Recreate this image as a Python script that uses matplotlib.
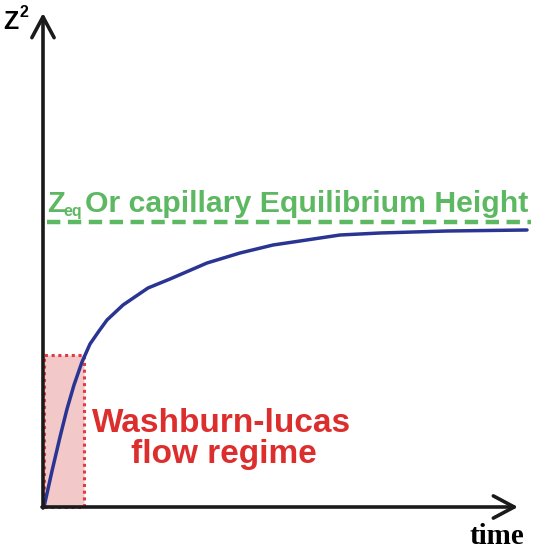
import matplotlib
matplotlib.use("Agg")
import matplotlib.pyplot as plt
from matplotlib.patches import Rectangle

# Curve data (arbitrary units: time vs z^2)
time_vals = [0, 8, 16, 23, 30, 38, 46, 55, 63, 79, 104, 126, 163, 196, 229, 256, 296, 336, 403, 483]
z2_vals = [0, 36, 70, 98, 122, 145, 163, 176, 187, 202, 219, 228, 244, 254, 262, 266, 272, 274, 276, 277]
z_eq = 285
regime_t_end = 40
regime_z_top = 152
eq_label = "Or capillary Equilibrium Height"
regime_line1 = "Washburn-lucas"
regime_line2 = "flow regime"

fig = plt.figure(figsize=(5.58, 5.51), dpi=100)
ax = fig.add_axes([0, 0, 1, 1])
ax.set_xlim(-44, 514)
ax.set_ylim(-44, 507)
ax.axis("off")

W, H = 558, 551
def fx(px):
    return px / W
def fy(py):
    return 1 - py / H

# regime box
ax.add_patch(Rectangle((0, 0), regime_t_end, regime_z_top, facecolor="#F2C8C8",
                       edgecolor="#E23A45", linestyle=(0, (1, 1.2)), lw=2.2, zorder=1))

# equilibrium line
ax.plot([3, 487], [z_eq, z_eq], color="#5DB862", lw=3.2, dashes=(3.0, 1.7), zorder=2)

# curve
ax.plot(time_vals, z2_vals, color="#2A3593", lw=2.5, zorder=3,
        solid_capstyle="round", solid_joinstyle="round")

# axes arrows
arrow_kw = dict(arrowstyle="->,head_length=0.75,head_width=0.4", lw=2.6, color="#1a1a1a",
                mutation_scale=20, shrinkA=0, shrinkB=0)
ax.annotate("", xy=(-1, 494), xytext=(-1, -1), arrowprops=arrow_kw, zorder=4)
ax.annotate("", xy=(474, 0), xytext=(-2, 0), arrowprops=arrow_kw, zorder=4)

# axis labels
fig.text(fx(3), fy(29), "Z", fontsize=18, fontweight="bold",
         family="Liberation Sans", ha="left", va="baseline")
fig.text(fx(20), fy(17), "2", fontsize=11.5, fontweight="bold",
         family="Liberation Sans", ha="left", va="baseline")
fig.text(fx(470), fy(544), "time", fontsize=21, fontweight="bold",
         family="Liberation Serif", ha="left", va="baseline")

# Z_eq label
green = "#5DB862"
fig.text(fx(47), fy(212), "Z", fontsize=21, fontweight="bold", color=green,
         family="Liberation Sans", ha="left", va="baseline")
fig.text(fx(63), fy(216), "eq", fontsize=11.5, fontweight="bold", color=green,
         family="Liberation Sans", ha="left", va="baseline")
fig.text(fx(85), fy(212), eq_label, fontsize=21.8, fontweight="bold", color=green,
         family="Liberation Sans", ha="left", va="baseline")

red = "#DD2E2E"
fig.text(fx(221.5), fy(432), regime_line1, fontsize=24, fontweight="bold", color=red,
         family="Liberation Sans", ha="center", va="baseline")
fig.text(fx(224), fy(463), regime_line2, fontsize=24, fontweight="bold", color=red,
         family="Liberation Sans", ha="center", va="baseline")

fig.savefig("out.png", dpi=100, facecolor="white")
